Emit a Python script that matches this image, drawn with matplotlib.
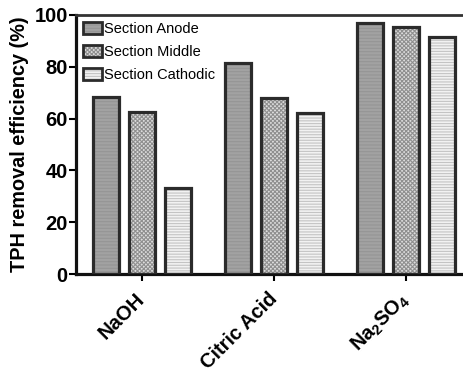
import matplotlib
matplotlib.use("Agg")
import matplotlib.pyplot as plt
import numpy as np
from matplotlib.patches import Patch

plt.rcParams['font.family'] = ['Liberation Sans', 'DejaVu Sans']
plt.rcParams['mathtext.fontset'] = 'custom'
plt.rcParams['mathtext.rm'] = 'Liberation Sans:bold'
plt.rcParams['mathtext.bf'] = 'Liberation Sans:bold'
plt.rcParams['hatch.linewidth'] = 0.8

categories = ['NaOH', 'Citric Acid', r'Na$_{\mathbf{2}}$SO$_{\mathbf{4}}$']
series = ['Section Anode', 'Section Middle', 'Section Cathodic']
anode = [68.3, 81.5, 97.0]
middle = [62.5, 68.0, 95.4]
cathodic = [33.2, 62.2, 91.5]
values = [anode, middle, cathodic]
yticks = [0, 20, 40, 60, 80, 100]

faces = ['#a2a2a2', '#dcdcdc', '#f2f2f2']
hatchcols = ['#959595', '#8f8f8f', '#c4c4c4']
hatches = ['-----', 'xxxxxxxx', '------']
edge = '#2b2b2b'

fig = plt.figure(figsize=(4.64, 3.74), dpi=100)
ax = fig.add_axes([76/464, 100/374, (472-76)/464, (274-15)/374])

x = np.arange(len(categories))
width = 0.197
offs = [-0.273, 0.0, 0.273]
handles = []
for vals, off, fc, hc, h, lab in zip(values, offs, faces, hatchcols, hatches, series):
    ax.bar(x + off, vals, width, color=fc, edgecolor=hc, hatch=h, linewidth=0, zorder=2)
    ax.bar(x + off, vals, width, fill=False, edgecolor=edge, linewidth=2.3, zorder=3)
    handles.append((Patch(facecolor=fc, edgecolor=hc, hatch=h, linewidth=0),
                    Patch(fill=False, edgecolor=edge, linewidth=2.0)))

ax.set_xlim(-0.5, 2.5)
ax.set_ylim(0, 100)
ax.set_yticks(yticks)
ax.set_yticklabels([str(t) for t in yticks], fontsize=14.5, fontweight='bold')
ax.set_xticks(x)
ax.set_xticklabels(categories, fontsize=14.5, fontweight='bold', rotation=45,
                   ha='right', va='center', rotation_mode='anchor')
ax.tick_params(axis='y', direction='out', length=5, width=1.5, pad=1)
ax.tick_params(axis='x', direction='out', length=5, width=1.5, pad=11)
ax.set_ylabel('TPH removal efficiency (%)', fontsize=14.3, fontweight='bold', labelpad=4)

for s in ['left', 'bottom']:
    ax.spines[s].set_linewidth(2.3)
    ax.spines[s].set_color('#111111')
ax.spines['top'].set_linewidth(2.0)
ax.spines['top'].set_color('#333333')
ax.spines['right'].set_visible(False)

ax.legend(handles, series, loc='upper left', bbox_to_anchor=(0.0, 1.0), frameon=False,
          fontsize=10.5, handlelength=1.3, handleheight=0.95, handletextpad=0.15,
          labelspacing=0.6, borderaxespad=0.3, borderpad=0.15)

fig.savefig('out.png', dpi=100)
